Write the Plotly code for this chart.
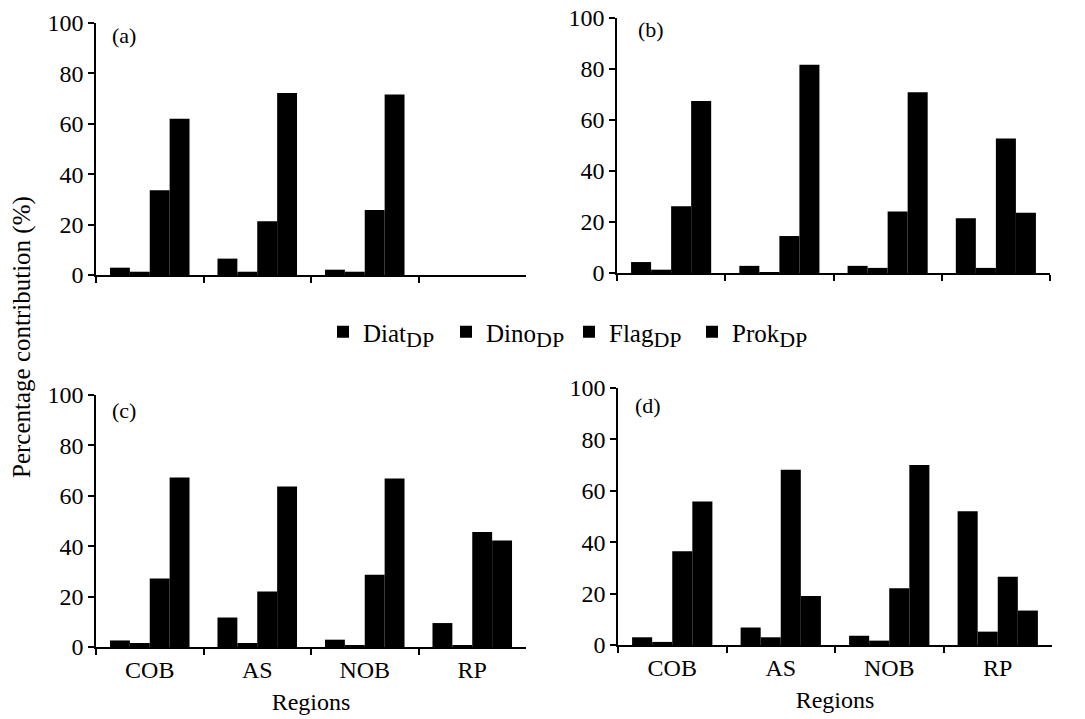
import plotly.graph_objects as go

regions = ["COB", "AS", "NOB", "RP"]
series_names = ["Diat", "Dino", "Flag", "Prok"]

# panel (a)
a_diat = [2.9, 6.5, 2.1, None]
a_dino = [1.3, 1.3, 1.3, None]
a_flag = [33.6, 21.3, 25.8, None]
a_prok = [62.0, 72.2, 71.6, None]
# panel (b)
b_diat = [4.3, 2.8, 2.8, 21.5]
b_dino = [1.3, 0.3, 2.0, 2.0]
b_flag = [26.2, 14.5, 24.1, 52.7]
b_prok = [67.5, 81.7, 70.9, 23.6]
# panel (c)
c_diat = [2.6, 11.7, 2.9, 9.5]
c_dino = [1.6, 1.6, 0.7, 0.7]
c_flag = [27.2, 22.0, 28.7, 45.6]
c_prok = [67.3, 63.7, 66.9, 42.3]
# panel (d)
d_diat = [3.0, 6.8, 3.6, 52.0]
d_dino = [1.2, 3.0, 1.7, 5.2]
d_flag = [36.5, 68.2, 22.1, 26.6]
d_prok = [55.8, 19.1, 70.0, 13.4]

panel_labels = ["(a)", "(b)", "(c)", "(d)"]
y_ticks = [0, 20, 40, 60, 80, 100]

W, H = 1085, 719
FONT = "Liberation Serif, Times New Roman, serif"

panels = [
    ([a_diat, a_dino, a_flag, a_prok], "x", "y", (96, 526), (23, 275), False, (110, 35)),
    ([b_diat, b_dino, b_flag, b_prok], "x2", "y2", (617, 1050), (18, 273), False, (636, 30)),
    ([c_diat, c_dino, c_flag, c_prok], "x3", "y3", (96, 526), (395, 647), True, (110, 410)),
    ([d_diat, d_dino, d_flag, d_prok], "x4", "y4", (618, 1052), (388, 645), True, (633, 405)),
]

fig = go.Figure()
layout = dict(
    width=W, height=H,
    template="none",
    margin=dict(l=0, r=0, t=0, b=0, autoexpand=False),
    paper_bgcolor="white", plot_bgcolor="white",
    barmode="group", bargap=0.26, bargroupgap=0,
    font=dict(family=FONT, size=22, color="black"),
    showlegend=True,
    legend=dict(orientation="h", x=323 / W, y=1 - 332 / H, xanchor="left", yanchor="middle",
                font=dict(family=FONT, size=25, color="black"),
                entrywidth=78, entrywidthmode="pixels", itemwidth=30,
                bgcolor="rgba(0,0,0,0)", borderwidth=0),
)
annotations = []

for i, (vals, xa, ya, (x0, x1), (yt, yb), show_x, (lx, ly)) in enumerate(panels):
    for j, v in enumerate(vals):
        fig.add_trace(go.Bar(
            x=regions, y=v,
            name=series_names[j] + '<sub><span style="font-size:22px">DP</span></sub>',
            xaxis=xa, yaxis=ya,
            marker=dict(color="black", line=dict(width=0)),
            showlegend=(i == 0), legendgroup=series_names[j],
        ))
    xk = "xaxis" if xa == "x" else "xaxis" + xa[1:]
    yk = "yaxis" if ya == "y" else "yaxis" + ya[1:]
    xax = dict(
        domain=[x0 / W, x1 / W], anchor=ya, type="category", automargin=False,
        categoryorder="array", categoryarray=regions,
        showline=True, linecolor="black", linewidth=1.5,
        ticks="outside", tickson="boundaries", ticklen=6, tickwidth=1.5, tickcolor="black",
        showticklabels=show_x, showgrid=False, zeroline=False,
        tickfont=dict(family=FONT, size=24, color="black"),
    )
    if show_x:
        xax["title"] = dict(text="Regions", font=dict(family=FONT, size=24, color="black"), standoff=12)
    layout[xk] = xax
    layout[yk] = dict(
        domain=[1 - yb / H, 1 - yt / H], anchor=xa, range=[0, 100], automargin=False,
        tickvals=y_ticks, showline=True, linecolor="black", linewidth=1.5,
        ticks="outside", ticklen=6, tickwidth=1.5, tickcolor="black",
        showgrid=False, zeroline=False,
        tickfont=dict(family=FONT, size=24, color="black"),
    )
    annotations.append(dict(text=panel_labels[i], x=lx / W, y=1 - ly / H, xref="paper", yref="paper",
                            xanchor="left", yanchor="middle", showarrow=False,
                            font=dict(family=FONT, size=22, color="black")))

annotations.append(dict(text="Percentage contribution (%)", x=22 / W, y=1 - 337 / H, xref="paper", yref="paper",
                        textangle=-90, xanchor="center", yanchor="middle", showarrow=False,
                        font=dict(family=FONT, size=25, color="black")))
layout["annotations"] = annotations
fig.update_layout(**layout)
fig.write_html("out.html")
